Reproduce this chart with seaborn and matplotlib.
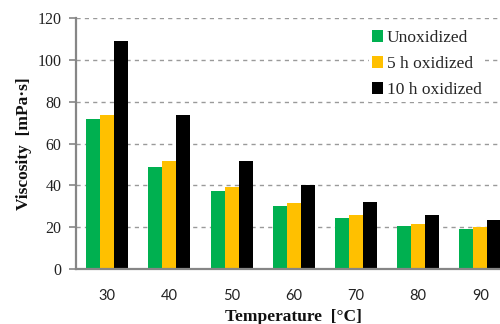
import matplotlib
matplotlib.use("Agg")
import matplotlib.pyplot as plt
import seaborn as sns
import pandas as pd

# Viscosity of the oil samples at each test temperature
temperatures = ["30", "40", "50", "60", "70", "80", "90"]
unoxidized = [71.6, 48.7, 37.3, 30.1, 24.6, 20.6, 19.3]
oxidized_5h = [73.5, 51.5, 39.3, 31.7, 26.0, 21.7, 20.1]
oxidized_10h = [108.7, 73.5, 51.5, 40.1, 32.0, 26.0, 23.5]
series_names = ["Unoxidized", "5 h oxidized", "10 h oxidized"]
series_colors = ["#00B050", "#FFC000", "#000000"]

rows = []
for name, values in zip(series_names, [unoxidized, oxidized_5h, oxidized_10h]):
    for t, v in zip(temperatures, values):
        rows.append({"Temperature": t, "Viscosity": v, "Condition": name})
df = pd.DataFrame(rows)

sns.set_theme(style="white")
serif = "Liberation Serif"
sans = "Lato"

fig = plt.figure(figsize=(5.0, 3.24), dpi=100)
ax = fig.add_axes([0.152, 0.169, 0.871, 0.776])

sns.barplot(
    data=df, x="Temperature", y="Viscosity", hue="Condition",
    order=temperatures, hue_order=series_names, palette=series_colors,
    width=0.675, saturation=1, linewidth=0, ax=ax, zorder=3,
)

ax.set_xlim(-0.5, len(temperatures) - 0.5)
ax.set_ylim(0, 120)
ax.set_yticks(range(0, 121, 20))

# dashed horizontal gridlines behind the bars
ax.yaxis.grid(True, color="#9A9A9A", linestyle=(0, (3, 3)), linewidth=1.0, zorder=0)
ax.xaxis.grid(False)
ax.set_axisbelow(True)

for side in ["top", "right"]:
    ax.spines[side].set_visible(False)
for side in ["left", "bottom"]:
    ax.spines[side].set_color("#868686")
    ax.spines[side].set_linewidth(1.6)
    ax.spines[side].set_zorder(4)

# category labels at the centres, tick marks at the category boundaries
ax.set_xticks(range(len(temperatures)))
ax.set_xticklabels(temperatures, fontfamily=sans, fontsize=10.5, color="#222222")
ax.tick_params(axis="x", which="major", length=0, pad=14)
ax.set_xticks([i - 0.5 for i in range(len(temperatures) + 1)], minor=True)
ax.tick_params(axis="x", which="minor", length=5, width=1.2, color="#868686", direction="out")

ax.set_yticklabels([str(v) for v in range(0, 121, 20)], fontfamily=serif, fontsize=11.5, color="#222222")
ax.tick_params(axis="y", which="major", length=5, width=1.2, color="#868686", pad=5.5, left=True)

ax.set_ylabel("Viscosity  [mPa·s]", fontfamily=serif, fontsize=12.5, fontweight="bold", color="#111111")
ax.yaxis.set_label_coords(-0.1, 0.5)
ax.set_xlabel("Temperature  [°C]", fontfamily=serif, fontsize=12.5, fontweight="bold", color="#111111")
ax.xaxis.set_label_coords(0.5, -0.16)

handles, labels = ax.get_legend_handles_labels()
leg = ax.legend(
    handles, labels, loc="upper left", bbox_to_anchor=(0.72, 0.945),
    bbox_transform=fig.transFigure, frameon=True, framealpha=1,
    edgecolor="none", facecolor="white", fancybox=False,
    prop={"family": serif, "size": 12.5}, handlelength=0.65, handleheight=0.65,
    handletextpad=0.2, labelspacing=0.58, borderpad=0.2,
)
leg.set_zorder(5)

fig.savefig("out.png", dpi=100)
